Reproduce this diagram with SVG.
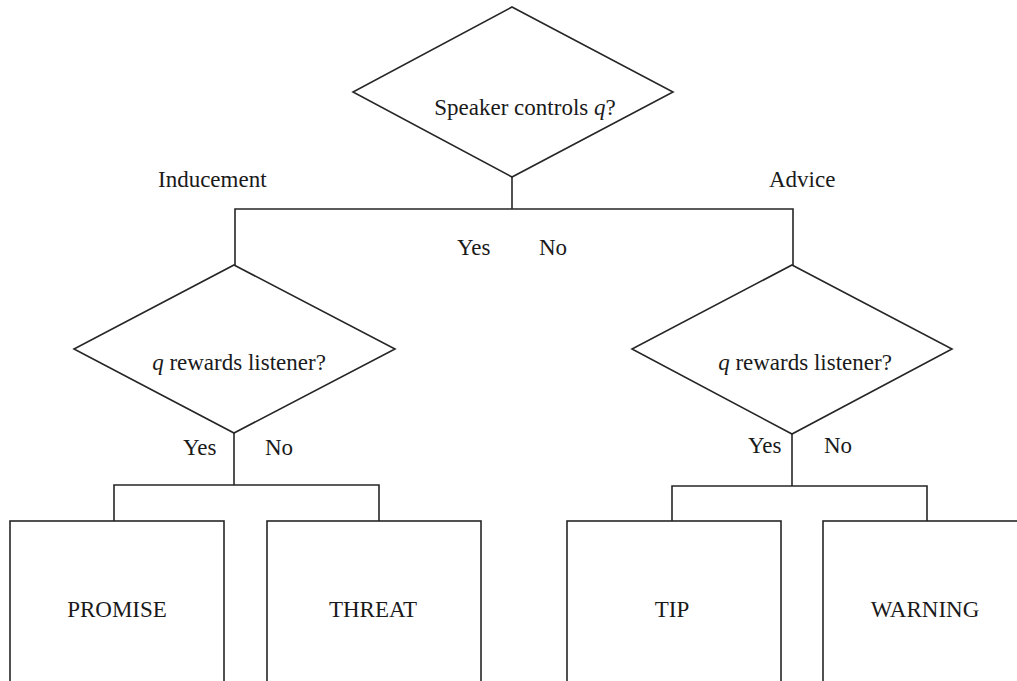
<svg xmlns="http://www.w3.org/2000/svg" width="1017" height="681" viewBox="0 0 1017 681">
<style>
.s{fill:#fff;stroke:#262626;stroke-width:1.6;stroke-linejoin:miter}
.c{fill:none;stroke:#262626;stroke-width:1.6}
text{font-family:"Liberation Serif","Times New Roman",serif;font-size:23px;fill:#1a1a1a}
.m{text-anchor:middle}
.i{font-style:italic}
</style>
<rect width="1017" height="681" fill="#fff"/>
<g id="connectors">
<polyline class="c" points="512,177 512,209"/>
<polyline class="c" points="235,265 235,209 793,209 793,265"/>
<polyline class="c" points="234,433 234,485"/>
<polyline class="c" points="114,521 114,485 379,485 379,521"/>
<polyline class="c" points="792,434 792,486"/>
<polyline class="c" points="672,521 672,486 927,486 927,521"/>
</g>
<g id="labels">
<text x="158" y="187">Inducement</text>
<text x="769" y="187">Advice</text>
<text x="457" y="255">Yes</text>
<text x="539" y="255">No</text>
<text x="183" y="455">Yes</text>
<text x="265" y="455">No</text>
<text x="748" y="453">Yes</text>
<text x="824" y="453">No</text>
</g>
<g id="q-speaker">
<polygon class="s" points="512,7 673,92 512,177 353,92"/>
<text class="m" x="525" y="115">Speaker controls <tspan class="i">q</tspan>?</text>
</g>
<g id="q-inducement">
<polygon class="s" points="234,265 395,349 234,433 74,349"/>
<text class="m" x="239" y="370"><tspan class="i">q</tspan> rewards listener?</text>
</g>
<g id="q-advice">
<polygon class="s" points="792,265 952,349 792,434 632,349"/>
<text class="m" x="805" y="370"><tspan class="i">q</tspan> rewards listener?</text>
</g>
<g id="promise">
<rect class="s" x="10" y="521" width="214" height="200"/>
<text class="m" x="117" y="617">PROMISE</text>
</g>
<g id="threat">
<rect class="s" x="267" y="521" width="214" height="200"/>
<text class="m" x="373" y="617">THREAT</text>
</g>
<g id="tip">
<rect class="s" x="567" y="521" width="214" height="200"/>
<text class="m" x="672" y="617">TIP</text>
</g>
<g id="warning">
<rect class="s" x="823" y="521" width="214" height="200"/>
<text class="m" x="925" y="617">WARNING</text>
</g>
</svg>
